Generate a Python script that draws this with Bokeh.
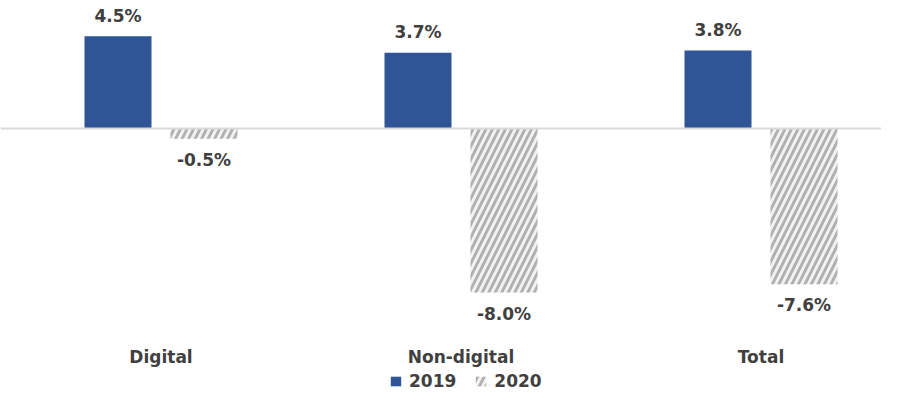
from bokeh.plotting import figure
from bokeh.models import ColumnDataSource, Span, Legend, LegendItem, Range1d
from bokeh.core.properties import value
from bokeh.embed import file_html
from bokeh.resources import INLINE

categories = ["Digital", "Non-digital", "Total"]
series = ["2019", "2020"]
values_2019 = [4.5, 3.7, 3.8]
values_2020 = [-0.5, -8.0, -7.6]

BLUE = "#2F5597"
TEXT = "#404040"
FONT = "DejaVu Sans"

W, H = 881, 391
px_per_unit = 20.5
zero_px = 128  # from top of frame
group_px = 300.0
first_center_px = 160.5

p = figure(width=W, height=H, output_backend="svg", toolbar_location=None,
           min_border=0, outline_line_color=None)
p.x_range = Range1d(-first_center_px / group_px, (W - first_center_px) / group_px)
p.y_range = Range1d(-(H - zero_px) / px_per_unit, zero_px / px_per_unit)
p.axis.visible = False
p.grid.visible = False
p.background_fill_color = "white"

xs = list(range(len(categories)))
off = 43 / group_px
bw = 67 / group_px

src19 = ColumnDataSource(dict(x=[x - off for x in xs], top=values_2019,
                              lab=[f"{v:.1f}%" for v in values_2019],
                              ly=[v + 1.0 for v in values_2019]))
src20 = ColumnDataSource(dict(x=[x + off for x in xs], top=values_2020,
                              lab=[f"{v:.1f}%" for v in values_2020],
                              ly=[v - 1.03 for v in values_2020]))

r19 = p.vbar(x="x", top="top", bottom=0, width=bw, source=src19,
             fill_color=BLUE, line_color=None)
r20 = p.vbar(x="x", top="top", bottom=0, width=bw, source=src20,
             fill_color="#f2f2f2", line_color=None,
             hatch_pattern="/", hatch_color="#b0b0b0", hatch_scale=13, hatch_weight=2.8)

p.add_layout(Span(location=0, dimension="width", line_color="#d9d9d9", line_width=2))

for s in (src19, src20):
    p.text(x="x", y="ly", text="lab", source=s, text_align="center",
           text_baseline="middle", text_font=value(FONT), text_font_style="bold",
           text_font_size="17px", text_color=TEXT)

cat_src = ColumnDataSource(dict(x=xs, y=[-(356 - zero_px) / px_per_unit] * 3, t=categories))
p.text(x="x", y="y", text="t", source=cat_src, text_align="center",
       text_baseline="middle", text_font=value(FONT), text_font_style="bold",
       text_font_size="17px", text_color=TEXT)

legend = Legend(items=[LegendItem(label=series[0], renderers=[r19]),
                       LegendItem(label=series[1], renderers=[r20])],
                location=(389, 0), orientation="horizontal",
                glyph_width=13, glyph_height=12, label_standoff=7, spacing=18,
                padding=0, margin=0, border_line_color=None, background_fill_alpha=0,
                label_text_font=FONT, label_text_font_style="bold",
                label_text_font_size="17px", label_text_color=TEXT)
p.add_layout(legend)

open("out.html", "w").write(file_html(p, INLINE))
